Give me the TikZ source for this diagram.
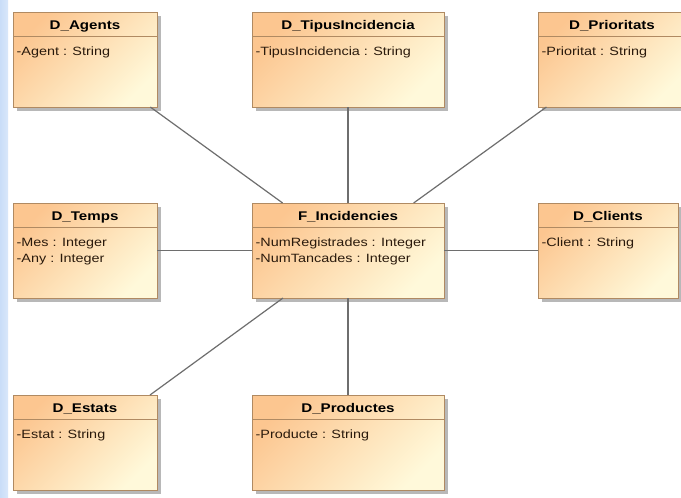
\documentclass[tikz,border=0pt]{standalone}
\usepackage{fontspec}
\newfontfamily\umlfont[FakeStretch=1.2]{Liberation Sans}
\usetikzlibrary{calc}

\definecolor{umlA}{HTML}{FCC690}
\definecolor{umlB}{HTML}{FFF9DA}
\definecolor{umlborder}{HTML}{B08A62}
\definecolor{umltext}{HTML}{2A1A0C}
\definecolor{connector}{HTML}{6E6E6E}
\definecolor{sidebar}{HTML}{C9DDF8}

\tikzset{
  classbox/.style={draw=umlborder, line width=1pt, shading=axis,
    top color=umlA, bottom color=umlB, shading angle=45,
    anchor=north west, inner sep=0pt, outer sep=0pt},
  boxshadow/.style={fill=black, opacity=0.28},
  sepline/.style={draw=umlborder, line width=1pt},
  titletext/.style={font=\umlfont\bfseries\fontsize{12.6}{14}\selectfont,
    text=black, anchor=base, inner sep=0pt},
  attrtext/.style={font=\umlfont\fontsize{12}{14}\selectfont,
    text=umltext, anchor=base west, inner sep=0pt},
  conn/.style={draw=connector, line width=1.2pt},
}

% #1 name, #2 x, #3 y (top), #4 width, #5 title, #6 attribute lines
\newcommand\umlclass[6]{%
  \fill[boxshadow] (#2+4,#3+4) rectangle (#2+#4+4,#3+99);
  \node[classbox, minimum width=#4pt, minimum height=95pt] (#1) at (#2,#3) {};
  \draw[sepline] (#2,#3+24) -- (#2+#4,#3+24);
  \node[titletext] (#1-t) at (#2+#4/2,#3+17) {#5};
  \foreach \a [count=\i] in {#6}
    \node[attrtext] (#1-a\i) at (#2+3.5,#3+27+16*\i) {\a};
}

\begin{document}
\begin{tikzpicture}[x=1pt, y=-1pt]
  \useasboundingbox (0,0) rectangle (681,498);
  \fill[white] (0,0) rectangle (681,498);
  % side strip
  \shade[left color=sidebar, right color=sidebar!70!white] (0,0) rectangle (8,498);

  \begin{scope}
    \clip (0,0) rectangle (681,498);
    \umlclass{agents}{13}{12}{144}{D\_Agents}{-Agent : String}
    \umlclass{tipus}{252}{12}{192}{D\_TipusIncidencia}{-TipusIncidencia : String}
    \umlclass{prioritats}{538}{12}{148}{D\_Prioritats}{-Prioritat : String}
    \umlclass{temps}{13}{203}{144}{D\_Temps}{-Mes : Integer, -Any : Integer}
    \umlclass{fact}{252}{203}{192}{F\_Incidencies}{-NumRegistrades : Integer, -NumTancades : Integer}
    \umlclass{clients}{538}{203}{140}{D\_Clients}{-Client : String}
    \umlclass{estats}{13}{395}{144}{D\_Estats}{-Estat : String}
    \umlclass{productes}{252}{395}{192}{D\_Productes}{-Producte : String}

    % associations from the fact table to each dimension
    \draw[conn] (agents) -- (fact);
    \draw[conn] (tipus) -- (fact);
    \draw[conn] (prioritats) -- (fact);
    \draw[conn] (temps) -- (fact);
    \draw[conn] (clients) -- (fact);
    \draw[conn] (estats) -- (fact);
    \draw[conn] (productes) -- (fact);
  \end{scope}
\end{tikzpicture}
\end{document}
